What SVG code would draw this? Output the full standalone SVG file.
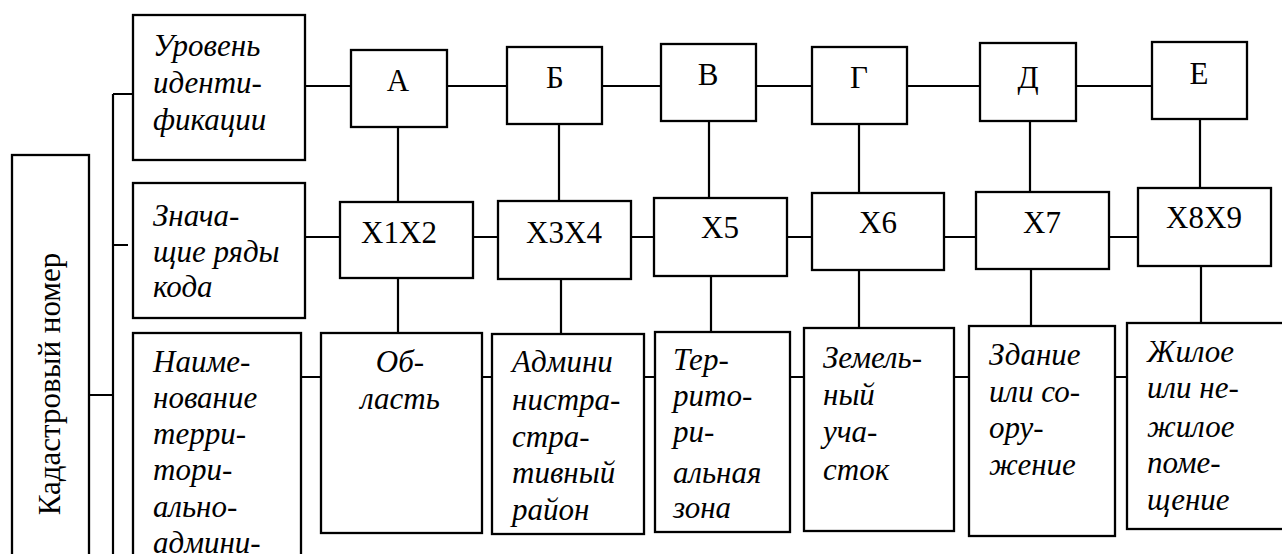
<svg xmlns="http://www.w3.org/2000/svg" width="1282" height="554" viewBox="0 0 1282 554">
  <style>
    .box { fill: #fff; stroke: #000; stroke-width: 2.3; }
    .ln { stroke: #000; stroke-width: 2.2; fill: none; }
    text { font-family: "Liberation Serif", "DejaVu Serif", serif; font-size: 31px; fill: #000; }
    .it { font-style: italic; }
    .c { text-anchor: middle; }
  </style>

  <!-- connectors -->
  <g id="connectors" class="ln">
    <!-- left bus -->
    <path d="M113 94 V554 M113 94 H133 M113 245 H128 M89 395 H113"/>
    <!-- top row links -->
    <path d="M305 86 H351 M447 86 H507 M602 86 H661 M756 86 H812 M907 86 H980 M1076 86 H1152"/>
    <!-- middle row links -->
    <path d="M305 237 H340 M473 237 H498 M631 237 H654 M787 237 H812 M944 237 H976 M1109 237 H1138"/>
    <!-- bottom row links -->
    <path d="M301 377 H321 M482 377 H492 M644 377 H655 M790 377 H804 M954 377 H969 M1115 377 H1127"/>
    <!-- verticals top -> middle -->
    <path d="M398 127 V202 M559 124 V201 M709 121 V198 M859 124 V193 M1030 121 V192 M1200 119 V188"/>
    <!-- verticals middle -> bottom -->
    <path d="M398 278 V333 M561 279 V334 M711 276 V332 M859 270 V328 M1031 269 V326 M1201 266 V323"/>
  </g>

  <!-- root -->
  <g id="cadastral-number">
    <rect class="box" x="12" y="155" width="77" height="420"/>
    <text class="c" transform="translate(60,384) rotate(-90)">Кадастровый номер</text>
  </g>

  <!-- row headers -->
  <g id="hdr-level">
    <rect class="box" x="133" y="15" width="172" height="145"/>
    <text class="it" x="153" y="56">Уровень</text>
    <text class="it" x="153" y="93">иденти-</text>
    <text class="it" x="153" y="130">фикации</text>
  </g>
  <g id="hdr-code">
    <rect class="box" x="133" y="183" width="172" height="135"/>
    <text class="it" x="153" y="226">Знача-</text>
    <text class="it" x="153" y="262">щие ряды</text>
    <text class="it" x="153" y="297">кода</text>
  </g>
  <g id="hdr-name">
    <rect class="box" x="133" y="333" width="168" height="240"/>
    <text class="it" x="153" y="372">Наиме-</text>
    <text class="it" x="153" y="408">нование</text>
    <text class="it" x="153" y="444">терри-</text>
    <text class="it" x="153" y="480">тори-</text>
    <text class="it" x="153" y="517">ально-</text>
    <text class="it" x="153" y="553">админи-</text>
  </g>

  <!-- identification level -->
  <g id="lvl-a"><rect class="box" x="351" y="50" width="96" height="77"/><text class="c" x="398" y="91">А</text></g>
  <g id="lvl-b"><rect class="box" x="507" y="47" width="95" height="77"/><text class="c" x="555" y="88">Б</text></g>
  <g id="lvl-v"><rect class="box" x="661" y="44" width="95" height="77"/><text class="c" x="708" y="85">В</text></g>
  <g id="lvl-g"><rect class="box" x="812" y="47" width="95" height="77"/><text class="c" x="859" y="88">Г</text></g>
  <g id="lvl-d"><rect class="box" x="980" y="43" width="96" height="78"/><text class="c" x="1028" y="88">Д</text></g>
  <g id="lvl-e"><rect class="box" x="1152" y="42" width="95" height="77"/><text class="c" x="1199" y="84">Е</text></g>

  <!-- code digits -->
  <g id="code-x1x2"><rect class="box" x="340" y="202" width="133" height="76"/><text class="c" x="399" y="243">X1X2</text></g>
  <g id="code-x3x4"><rect class="box" x="498" y="201" width="133" height="78"/><text class="c" x="564" y="243">X3X4</text></g>
  <g id="code-x5"><rect class="box" x="654" y="198" width="133" height="78"/><text class="c" x="720" y="238">X5</text></g>
  <g id="code-x6"><rect class="box" x="812" y="193" width="132" height="77"/><text class="c" x="878" y="233">X6</text></g>
  <g id="code-x7"><rect class="box" x="976" y="192" width="133" height="77"/><text class="c" x="1042" y="233">X7</text></g>
  <g id="code-x8x9"><rect class="box" x="1138" y="188" width="133" height="78"/><text class="c" x="1204" y="228">X8X9</text></g>

  <!-- territorial units -->
  <g id="unit-region">
    <rect class="box" x="321" y="333" width="161" height="200"/>
    <text class="it c" x="400" y="372">Об-</text>
    <text class="it c" x="400" y="409">ласть</text>
  </g>
  <g id="unit-district">
    <rect class="box" x="492" y="334" width="152" height="200"/>
    <text class="it" x="512" y="372">Админи</text>
    <text class="it" x="512" y="410">нистра-</text>
    <text class="it" x="512" y="447">стра-</text>
    <text class="it" x="512" y="483">тивный</text>
    <text class="it" x="512" y="520">район</text>
  </g>
  <g id="unit-zone">
    <rect class="box" x="655" y="332" width="135" height="200"/>
    <text class="it" x="673" y="370">Тер-</text>
    <text class="it" x="673" y="406">рито-</text>
    <text class="it" x="673" y="442">ри-</text>
    <text class="it" x="673" y="483">альная</text>
    <text class="it" x="673" y="518">зона</text>
  </g>
  <g id="unit-plot">
    <rect class="box" x="804" y="328" width="150" height="203"/>
    <text class="it" x="823" y="368">Земель-</text>
    <text class="it" x="823" y="405">ный</text>
    <text class="it" x="823" y="442">уча-</text>
    <text class="it" x="823" y="480">сток</text>
  </g>
  <g id="unit-building">
    <rect class="box" x="969" y="326" width="146" height="210"/>
    <text class="it" x="989" y="365">Здание</text>
    <text class="it" x="989" y="402">или со-</text>
    <text class="it" x="989" y="438">ору-</text>
    <text class="it" x="989" y="475">жение</text>
  </g>
  <g id="unit-premises">
    <rect class="box" x="1127" y="323" width="160" height="206"/>
    <text class="it" x="1147" y="362">Жилое</text>
    <text class="it" x="1147" y="398">или не-</text>
    <text class="it" x="1147" y="437">жилое</text>
    <text class="it" x="1147" y="473">поме-</text>
    <text class="it" x="1147" y="510">щение</text>
  </g>
</svg>
